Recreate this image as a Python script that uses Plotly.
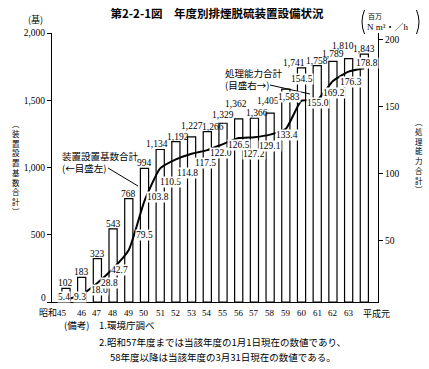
import plotly.graph_objects as go

# ---- data ----
years = ["昭和45", "46", "47", "48", "49", "50", "51", "52", "53", "54",
         "55", "56", "57", "58", "59", "60", "61", "62", "63", "平成元"]
units = [102, 183, 323, 543, 768, 994, 1134, 1192, 1227, 1266,
         1329, 1362, 1366, 1405, 1583, 1741, 1758, 1789, 1810, 1843]
capacity = [5.4, 9.3, 18.0, 28.8, 42.7, 79.5, 103.8, 110.5, 114.8, 117.5,
            122.0, 126.5, 127.2, 129.1, 133.4, 154.5, 155.0, 169.2, 176.3, 178.8]
left_ticks = [0, 500, 1000, 1500, 2000]
right_ticks = [50, 100, 150, 200]

title = "第2-2-1図　年度別排煙脱硫装置設備状況"
left_title = "︵装置設置基数合計︶"
right_title = "︵処理能力合計︶"
notes = ["1.環境庁調べ",
         "2.昭和57年度までは当該年度の1月1日現在の数値であり、",
         "58年度以降は当該年度の3月31日現在の数値である。"]

# ---- label placement tweaks (pixels: xshift, yshift) ----
unit_label_shift = [(0, -1)] * 20
for i, s in {6: (-3, -1), 7: (2, -1), 8: (0, 5), 9: (6, -1), 10: (0, 2),
             11: (-3, 9), 12: (3, -1), 13: (-2, 6), 14: (3, -14), 15: (-8, -1),
             17: (0, 1), 18: (-6, 7)}.items():
    unit_label_shift[i] = s
unit_label_bg = {14}
cap_label_shift = [(-2, 3), (-2, -2), (2, -7), (-4, -14), (-9, -20), (0, -34),
                   (-2, -29), (-5, -23), (-4, -19), (-2, -13), (-2, -9), (0, -7),
                   (0, -17), (0, -11), (1, -6), (0, 22), (1, -3), (1, -12),
                   (2, -10), (3, 5)]

NUM_FONT = "Liberation Serif, Noto Sans CJK JP"
JP_FONT = "Noto Sans CJK JP"

xpos = list(range(len(years)))

fig = go.Figure()
fig.add_trace(go.Bar(
    x=xpos, y=units, width=0.52,
    marker=dict(color="white", line=dict(color="black", width=1.2)),
    yaxis="y", showlegend=False, hoverinfo="skip"))
fig.add_trace(go.Scatter(
    x=xpos, y=capacity, yaxis="y2", mode="lines",
    line=dict(color="black", width=2, shape="spline", smoothing=0.5),
    showlegend=False, hoverinfo="skip"))

ann = []

def add(**kw):
    kw.setdefault("showarrow", False)
    kw.setdefault("xanchor", "center")
    kw.setdefault("yanchor", "middle")
    ann.append(kw)

# count labels
for i, (v, (dx, dy)) in enumerate(zip(units, unit_label_shift)):
    add(x=i, y=v, xref="x", yref="y", text=f"{v:,}", yanchor="bottom",
        xshift=dx, yshift=dy, borderpad=0,
        bgcolor="white" if i in unit_label_bg else "rgba(0,0,0,0)",
        font=dict(family=NUM_FONT, size=9.5, color="black"))
# capacity labels
for i, (v, (dx, dy)) in enumerate(zip(capacity, cap_label_shift)):
    add(x=i, y=v, xref="x", yref="y2", text=f"{v:.1f}",
        xshift=dx, yshift=dy, bgcolor="white", borderpad=0,
        font=dict(family=NUM_FONT, size=9.5, color="black"))
# x labels
for i, lab in enumerate(years):
    if i == 0:
        xa, xs = "right", 3
    elif i == len(years) - 1:
        xa, xs = "left", -3
    else:
        xa, xs = "center", 0
    add(x=i, y=0, xref="x", yref="paper", text=lab,
        xanchor=xa, xshift=xs, yanchor="top", yshift=-4,
        font=dict(family=NUM_FONT, size=9, color="black"))

def px2paper(px, py):
    return (px - 52) / 326, (302 - py) / 269

# left-axis zero label (raised slightly, as in the original)
x_, y_ = px2paper(47, 298)
add(x=x_, y=y_, xref="paper", yref="paper", text=f"{left_ticks[0]:,}", xanchor="right",
    borderpad=0, font=dict(family=NUM_FONT, size=9.5, color="black"))

shapes = []

def leader(p_from, p_to):
    a = px2paper(*p_from)
    b = px2paper(*p_to)
    shapes.append(dict(type="line", xref="paper", yref="paper",
                       x0=a[0], y0=a[1], x1=b[0], y1=b[1],
                       line=dict(color="black", width=1)))

# series annotations with leader lines
ax_, ay_ = px2paper(60, 161.5)
add(x=ax_, y=ay_, xref="paper", yref="paper",
    text="装置設置基数合計<br>(←目盛左)", align="left", xanchor="left",
    font=dict(family=JP_FONT, size=9.5, color="black"))
leader((108, 168), (138, 186))
ax_, ay_ = px2paper(223, 79)
add(x=ax_, y=ay_, xref="paper", yref="paper",
    text="処理能力合計<br>(目盛右→)", align="left", xanchor="left",
    font=dict(family=JP_FONT, size=9.5, color="black"))
leader((270, 85), (310, 94))

# unit labels
x_, y_ = px2paper(35, 20)
add(x=x_, y=y_, xref="paper", yref="paper", text="(基)",
    font=dict(family=JP_FONT, size=9, color="black"))
x_, y_ = px2paper(366, 16)
add(x=x_, y=y_, xref="paper", yref="paper", text="百万", xanchor="left",
    font=dict(family=JP_FONT, size=7, color="black"))
x_, y_ = px2paper(365, 27)
add(x=x_, y=y_, xref="paper", yref="paper", text="N m³・／h", xanchor="left",
    font=dict(family=NUM_FONT, size=9, color="black"))

# tall bracket shapes around the right-axis unit
for x0, xc in [(364.5, 359.5), (416.5, 421.5)]:
    p0 = px2paper(x0, 10)
    pc = px2paper(xc, 22)
    p1 = px2paper(x0, 34)
    shapes.append(dict(type="path", xref="paper", yref="paper",
                       path=f"M {p0[0]},{p0[1]} Q {pc[0]},{pc[1]} {p1[0]},{p1[1]}",
                       line=dict(color="black", width=1)))

# vertical axis titles (stacked upright characters, one text block each)
x_, y_ = px2paper(16, 167)
add(x=x_, y=y_, xref="paper", yref="paper", text="<br>".join(left_title), borderpad=0,
    font=dict(family=JP_FONT, size=7.5, color="black"))
x_, y_ = px2paper(419, 155)
add(x=x_, y=y_, xref="paper", yref="paper", text="<br>".join(right_title), borderpad=0,
    font=dict(family=JP_FONT, size=7.5, color="black"))

# notes
x_, y_ = px2paper(62, 325)
add(x=x_, y=y_, xref="paper", yref="paper", text="(備考)", xanchor="left",
    font=dict(family=JP_FONT, size=9.5, color="black"))
for (px, py), t in zip([(97, 325), (97, 342), (108, 357)], notes):
    x_, y_ = px2paper(px, py)
    add(x=x_, y=y_, xref="paper", yref="paper", text=t, xanchor="left",
        font=dict(family=JP_FONT, size=9.5, color="black"))

fig.update_layout(
    width=429, height=369,
    margin=dict(l=52, r=51, t=33, b=67),
    paper_bgcolor="white", plot_bgcolor="white",
    title=dict(text=title, x=217 / 429, xanchor="center", y=1 - 14 / 369, yanchor="middle",
               xref="container", yref="container",
               font=dict(family=JP_FONT, size=11.5, color="black", weight="bold")),
    xaxis=dict(range=[-0.89, 19.87], showline=True, linecolor="black", linewidth=1,
               showticklabels=False, ticks="", showgrid=False, zeroline=False),
    yaxis=dict(range=[0, 2000], tickvals=left_ticks,
               ticktext=[""] + [f"{t:,}" for t in left_ticks[1:]], showline=True,
               linecolor="black", linewidth=1, ticks="outside", ticklen=4,
               tickcolor="black", showgrid=False, zeroline=False,
               tickfont=dict(family=NUM_FONT, size=9.5, color="black")),
    yaxis2=dict(range=[3.75, 205.2], tickvals=right_ticks, overlaying="y", side="right",
                showline=True, linecolor="black", linewidth=1, ticks="outside", ticklen=4,
                tickcolor="black", showgrid=False, zeroline=False,
                tickfont=dict(family=NUM_FONT, size=9.5, color="black")),
    annotations=ann,
    shapes=shapes,
    showlegend=False,
)

fig.write_html("out.html", config={"displayModeBar": False, "staticPlot": True},
               post_script="document.body.style.margin='0';document.body.style.overflow='hidden';")
